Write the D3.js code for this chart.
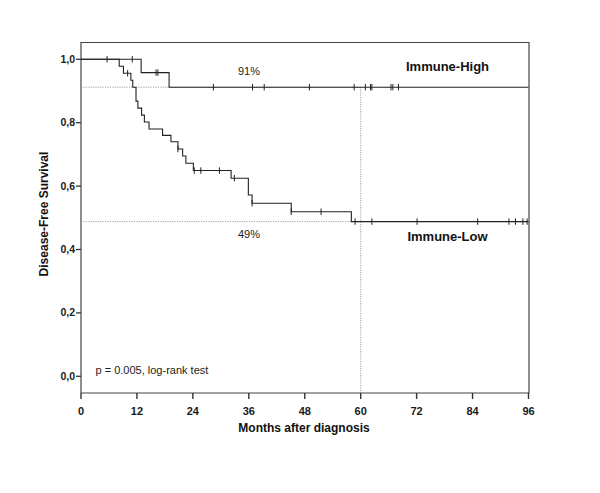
<!DOCTYPE html>
<html><head><meta charset="utf-8">
<script src="https://cdn.jsdelivr.net/npm/d3@7"></script>
<style>body{margin:0;background:#fff}svg{display:block}text{font-family:"Liberation Sans",Arial,sans-serif}</style>
</head><body>
<svg id="c" width="600" height="493"></svg>
<script>
// ---- data ----
const xTicks = [0, 12, 24, 36, 48, 60, 72, 84, 96];
const yTicks = [0, 0.2, 0.4, 0.6, 0.8, 1.0];
const highTimes = [0, 12.9, 18.9];
const highSurv  = [1, 0.958, 0.912];
const highCensor = [5.6, 11.0, 16.1, 16.5, 28.4, 36.8, 39.3, 49.0, 58.6, 61.0, 62.1, 62.4, 66.5, 66.9, 68.1];
const lowTimes = [0, 8.2, 9.1, 10.7, 11.1, 11.8, 12.2, 13.0, 13.6, 14.6, 17.5, 19.3, 20.8, 21.8, 22.5, 24.1, 32.2, 35.9, 36.7, 45.1, 58.0];
const lowSurv  = [1, 0.978, 0.956, 0.934, 0.912, 0.868, 0.846, 0.824, 0.802, 0.780, 0.760, 0.740, 0.717, 0.695, 0.672, 0.649, 0.625, 0.572, 0.546, 0.519, 0.488];
const lowCensor = [10.0, 20.8, 24.3, 25.7, 29.7, 32.9, 36.7, 45.1, 51.5, 58.8, 62.4, 72.1, 85.1, 91.8, 93.2, 94.8, 95.7];
const endTime = 96;
const landmark = 60;
const highLabel = "Immune-High", lowLabel = "Immune-Low";
const highPct = "91%", lowPct = "49%";
const pText = "p = 0.005, log-rank test";

// ---- layout ----
const svg = d3.select("#c");
const x = d3.scaleLinear().domain([0, 96]).range([81, 528.5]);
const y = d3.scaleLinear().domain([0, 1]).range([376.3, 59.3]);
const boxTop = 42.5, boxBottom = 393, boxLeft = 81, boxRight = 529;

// frame
svg.append("path")
  .attr("d", `M${boxLeft},${boxBottom}V${boxTop}H${boxRight}V${boxBottom}H${boxLeft}`)
  .attr("fill", "none").attr("stroke", "#444").attr("stroke-width", 1.2);

// x ticks
const gx = svg.append("g");
xTicks.forEach(t => {
  gx.append("line").attr("x1", x(t)).attr("x2", x(t)).attr("y1", boxBottom).attr("y2", boxBottom + 6)
    .attr("stroke", "#333").attr("stroke-width", 1.4);
  gx.append("text").attr("x", x(t)).attr("y", boxBottom + 21.5).attr("text-anchor", "middle")
    .attr("font-size", 11).attr("font-weight", "bold").attr("fill", "#1a1a1a").text(t);
});
// y ticks
const fmt = v => d3.format(".1f")(v).replace(".", ",");
yTicks.forEach(t => {
  svg.append("line").attr("x1", boxLeft - 5).attr("x2", boxLeft).attr("y1", y(t)).attr("y2", y(t))
    .attr("stroke", "#333").attr("stroke-width", 1.3);
  svg.append("text").attr("x", boxLeft - 6).attr("y", y(t) + 3.5).attr("text-anchor", "end")
    .attr("font-size", 10.5).attr("font-weight", "bold").attr("fill", "#222").text(fmt(t));
});

// reference dotted lines
const dot = {stroke: "#888", "stroke-width": 0.8, "stroke-dasharray": "1.2,1.2"};
function dl(x1, y1, x2, y2) {
  const l = svg.append("line").attr("x1", x1).attr("y1", y1).attr("x2", x2).attr("y2", y2);
  Object.entries(dot).forEach(([k, v]) => l.attr(k, v));
}
dl(x(0), y(highSurv[highSurv.length - 1]), x(landmark), y(highSurv[highSurv.length - 1]));
dl(x(0), y(lowSurv[lowSurv.length - 1]), x(landmark), y(lowSurv[lowSurv.length - 1]));
dl(x(landmark), y(highSurv[highSurv.length - 1]), x(landmark), boxBottom);

// curves
const line = d3.line().x(d => x(d[0])).y(d => y(d[1])).curve(d3.curveStepAfter);
function curve(times, surv, cens) {
  const pts = times.map((t, i) => [t, surv[i]]);
  pts.push([endTime, surv[surv.length - 1]]);
  svg.append("path").attr("d", line(pts)).attr("fill", "none").attr("stroke", "#222").attr("stroke-width", 1.1);
  const sAt = t => { let s = 1; times.forEach((tt, i) => { if (tt <= t) s = surv[i]; }); return s; };
  cens.forEach(c => {
    svg.append("line").attr("x1", x(c)).attr("x2", x(c)).attr("y1", y(sAt(c)) - 3.2).attr("y2", y(sAt(c)) + 3.2)
      .attr("stroke", "#222").attr("stroke-width", 1);
  });
}
curve(highTimes, highSurv, highCensor);
curve(lowTimes, lowSurv, lowCensor);

// labels
svg.append("text").attr("x", 249).attr("y", 74.5).attr("text-anchor", "middle").attr("font-size", 11).attr("fill", "#222").text(highPct);
svg.append("text").attr("x", 249).attr("y", 238).attr("text-anchor", "middle").attr("font-size", 11).attr("fill", "#222").text(lowPct);
svg.append("text").attr("x", 447.5).attr("y", 70.5).attr("text-anchor", "middle").attr("font-size", 13).attr("font-weight", "bold").attr("fill", "#111").text(highLabel);
svg.append("text").attr("x", 447.5).attr("y", 241).attr("text-anchor", "middle").attr("font-size", 13).attr("font-weight", "bold").attr("fill", "#111").text(lowLabel);
svg.append("text").attr("x", 95.5).attr("y", 374).attr("font-size", 11).attr("fill", "#222").text(pText);

// axis titles
svg.append("text").attr("x", 304).attr("y", 431.5).attr("text-anchor", "middle").attr("font-size", 12).attr("font-weight", "bold").attr("fill", "#111").text("Months after diagnosis");
svg.append("text").attr("transform", "translate(47.5,214) rotate(-90)").attr("text-anchor", "middle").attr("font-size", 12).attr("font-weight", "bold").attr("fill", "#111").text("Disease-Free Survival");
</script>
</body></html>
